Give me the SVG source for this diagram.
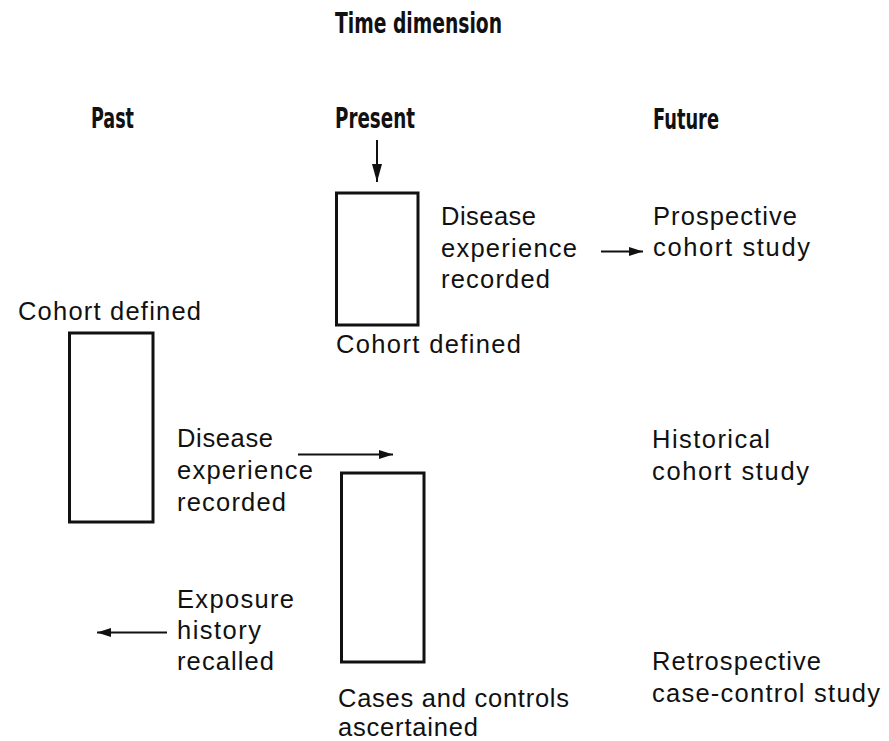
<svg xmlns="http://www.w3.org/2000/svg" width="889" height="741" viewBox="0 0 889 741">
<style>
  .bg{fill:#ffffff}
  .head{font-family:"Liberation Sans Narrow","DejaVu Sans Condensed","Liberation Sans",sans-serif;font-weight:bold;font-size:29px;fill:#111}
  .body{font-family:"Liberation Sans",Arial,sans-serif;font-size:25.5px;fill:#111}
  .box{fill:none;stroke:#111;stroke-width:3}
  .conn{stroke:#111;stroke-width:2;fill:none}
</style>
<defs>
  <marker id="ah" markerUnits="userSpaceOnUse" markerWidth="14" markerHeight="9" refX="14" refY="4.5" orient="auto">
    <path d="M0,0 L14,4.5 L0,9 z" fill="#111"/>
  </marker>
  <marker id="ahL" markerUnits="userSpaceOnUse" markerWidth="18" markerHeight="10" refX="18" refY="5" orient="auto">
    <path d="M0,0 L18,5 L0,10 z" fill="#111"/>
  </marker>
</defs>
<rect class="bg" x="0" y="0" width="889" height="741"/>

<g id="headings">
  <text class="head" x="335" y="33" textLength="167" lengthAdjust="spacingAndGlyphs">Time dimension</text>
  <text class="head" x="91" y="128" textLength="43" lengthAdjust="spacingAndGlyphs">Past</text>
  <text class="head" x="335" y="128" textLength="80" lengthAdjust="spacingAndGlyphs">Present</text>
  <text class="head" x="653" y="129" textLength="66" lengthAdjust="spacingAndGlyphs">Future</text>
</g>

<g id="present-cohort">
  <rect class="box" x="336.5" y="193" width="81.5" height="132"/>
  <text class="body" x="336" y="353" textLength="185">Cohort defined</text>
  <text class="body" x="441" y="225" textLength="95">Disease</text>
  <text class="body" x="441" y="257" textLength="136">experience</text>
  <text class="body" x="441" y="288" textLength="109">recorded</text>
</g>

<g id="past-cohort">
  <text class="body" x="18" y="320" textLength="183">Cohort defined</text>
  <rect class="box" x="69.5" y="333" width="83.5" height="189"/>
  <text class="body" x="177" y="447" textLength="96">Disease</text>
  <text class="body" x="177" y="479" textLength="136">experience</text>
  <text class="body" x="177" y="511" textLength="109">recorded</text>
</g>

<g id="case-control">
  <rect class="box" x="341.5" y="473" width="82.5" height="189"/>
  <text class="body" x="177" y="608" textLength="117">Exposure</text>
  <text class="body" x="177" y="639" textLength="84">history</text>
  <text class="body" x="177" y="670" textLength="97">recalled</text>
  <text class="body" x="338" y="707" textLength="231">Cases and controls</text>
  <text class="body" x="338" y="736" textLength="140">ascertained</text>
</g>

<g id="study-labels">
  <text class="body" x="653" y="225" textLength="144">Prospective</text>
  <text class="body" x="653" y="256" textLength="157">cohort study</text>
  <text class="body" x="652" y="448" textLength="118">Historical</text>
  <text class="body" x="652" y="480" textLength="157">cohort study</text>
  <text class="body" x="652" y="670" textLength="169">Retrospective</text>
  <text class="body" x="652" y="702" textLength="228">case-control study</text>
</g>

<g id="connectors">
  <line class="conn" x1="377" y1="140" x2="377" y2="182" marker-end="url(#ahL)"/>
  <line class="conn" x1="601" y1="251.5" x2="643" y2="251.5" marker-end="url(#ah)"/>
  <line class="conn" x1="298" y1="454.5" x2="393" y2="454.5" marker-end="url(#ah)"/>
  <line class="conn" x1="167" y1="632.5" x2="97" y2="632.5" marker-end="url(#ah)"/>
</g>
</svg>
